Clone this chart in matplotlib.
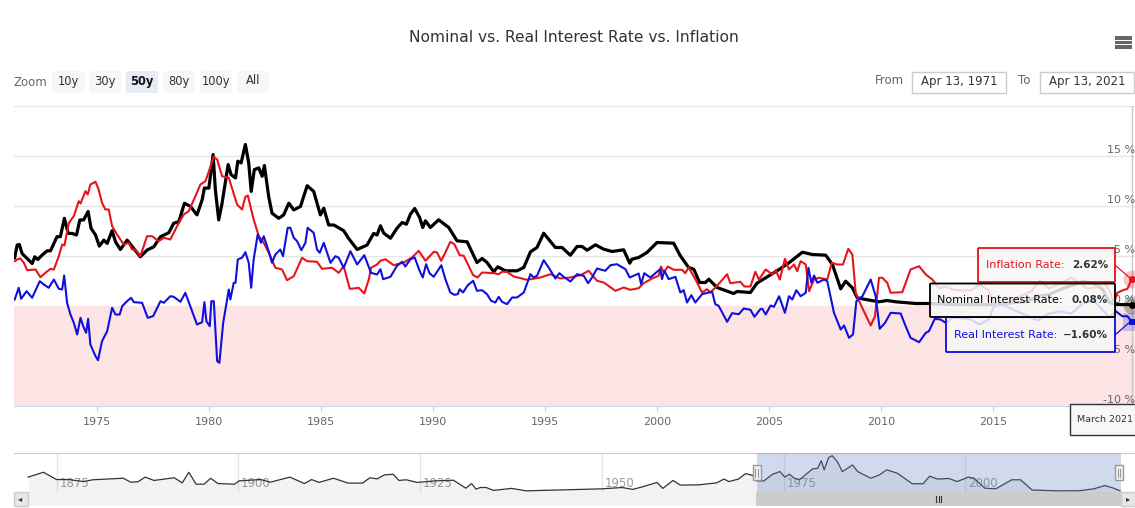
# Nominal vs. real interest rate vs. inflation, stock chart style

import matplotlib
matplotlib.use('Agg')
import matplotlib.pyplot as plt
from matplotlib.patches import FancyBboxPatch, Rectangle

# Nominal interest rate
nominal_years = [1971.32,1971.43,1971.53,1971.65,1971.8,1972.1,1972.22,1972.35,1972.54,1972.77,1972.92,1973.21,1973.36,1973.54,1973.71,1973.88,1974.08,1974.23,1974.4,1974.6,1974.73,1974.93,1975.1,1975.3,1975.45,1975.67,1975.82,1976.04,1976.34,1976.64,1976.93,1977.23,1977.53,1977.83,1978.2,1978.42,1978.65,1978.9,1979.17,1979.46,1979.69,1979.79,1979.99,1980.18,1980.28,1980.43,1980.58,1980.85,1980.98,1981.18,1981.28,1981.43,1981.62,1981.77,1981.88,1982.02,1982.22,1982.37,1982.47,1982.66,1982.81,1983.11,1983.33,1983.56,1983.78,1984.08,1984.38,1984.67,1984.97,1985.12,1985.34,1985.57,1986.01,1986.23,1986.61,1987.05,1987.35,1987.5,
                 1987.65,1987.8,1988.1,1988.39,1988.62,1988.81,1988.99,1989.18,1989.4,1989.54,1989.66,1989.88,1990.25,1990.7,1991.07,1991.52,1991.96,1992.19,1992.41,1992.71,1992.89,1993.23,1993.75,1994.05,1994.35,1994.64,1994.94,1995.46,1995.76,1996.13,1996.43,1996.65,1996.88,1997.25,1997.62,1997.99,1998.51,1998.78,1998.88,1999.18,1999.55,2000.0,2000.74,2001.04,2001.41,2001.64,2001.9,2002.16,2002.31,2002.68,2003.42,2003.57,2004.17,2004.46,
                 2004.85,2005.45,2005.89,2006.49,2006.93,2007.53,2007.83,2008.2,2008.42,2008.72,2008.94,2009.32,2009.91,2010.28,2010.65,2011.55,2012.22,2013.0,2015.0,2016.0,2016.5,2017.0,2017.5,2018.0,2018.5,2019.0,2019.5,2019.9,2020.2,2020.5,2021.19]
nominal_rates = [4.77,6.04,6.1,5.2,4.87,4.2,4.87,4.6,5.03,5.47,5.47,6.88,6.88,8.72,7.21,7.21,7.05,8.56,8.56,9.4,7.72,7.05,5.94,6.54,6.21,7.48,6.38,5.6,6.54,5.7,4.87,5.54,5.87,6.88,7.28,8.22,8.39,10.23,9.9,9.06,10.57,11.74,11.74,15.1,11.58,8.56,10.23,14.09,13.09,12.75,14.43,14.26,16.1,14.26,11.41,13.59,13.76,12.92,14.0,10.9,9.23,8.72,9.06,10.23,9.56,9.9,11.98,11.41,9.06,9.73,8.05,8.05,7.48,6.71,5.6,6.04,7.21,7.05,
                 7.97,7.23,6.73,7.73,8.3,8.13,9.13,9.7,8.8,7.8,8.47,7.8,8.57,7.8,6.47,6.37,4.3,4.7,4.3,3.37,3.87,3.47,3.47,3.8,5.37,5.8,7.23,5.8,5.8,5.03,5.9,5.9,5.53,6.07,5.63,5.4,5.57,4.23,4.63,4.8,5.3,6.3,6.23,4.97,3.8,3.63,2.3,2.3,2.63,1.8,1.2,1.4,1.3,2.23,
                 2.77,3.6,4.27,5.33,5.1,5.03,4.1,1.67,2.43,1.77,0.77,0.6,0.37,0.5,0.37,0.2,0.2,0.1,0.08,0.3,0.4,0.9,1.1,1.6,2.0,2.4,2.2,1.6,0.3,0.1,0.08]

# Inflation rate
inflation_years = [1971.32,1971.43,1971.58,1971.73,1971.88,1972.25,1972.47,1972.69,1972.92,1973.07,1973.29,1973.44,1973.54,1973.74,1973.96,1974.18,1974.26,1974.48,1974.58,1974.7,1974.93,1975.07,1975.22,1975.37,1975.52,1975.67,1975.89,1976.19,1976.41,1976.56,1976.71,1976.93,1977.23,1977.46,1977.75,1977.98,1978.27,1978.57,1978.87,1979.09,1979.39,1979.61,1979.84,1980.21,1980.36,1980.58,1980.88,1981.25,1981.47,1981.62,1981.73,1981.99,1982.22,1982.44,1982.74,1982.96,1983.26,1983.48,1983.78,1984.15,1984.38,1984.82,1985.04,1985.49,1985.79,1986.01,1986.28,1986.46,1986.68,1986.93,1987.13,1987.23,1987.5,
                   1987.65,1987.87,1988.24,1988.69,1989.06,1989.36,1989.66,1990.03,1990.18,1990.36,1990.55,1990.77,1990.95,1991.19,1991.37,1991.55,1991.79,1991.99,1992.19,1992.71,1992.93,1993.08,1993.3,1993.6,1994.2,1994.79,1995.24,1995.68,1996.13,1996.58,1996.95,1997.32,1997.62,1998.14,1998.51,1998.81,1999.18,1999.4,1999.78,2000.07,2000.18,2000.3,2000.48,2000.74,2001.12,2001.26,2001.41,2001.71,2002.01,2002.23,2002.38,2002.68,2003.13,2003.27,2003.72,2003.9,2004.17,2004.39,2004.55,
                   2004.85,2005.15,2005.3,2005.48,2005.71,2005.89,2006.12,2006.26,2006.41,2006.64,2006.79,2007.01,2007.23,2007.6,2007.8,2008.05,2008.3,2008.54,2008.72,2008.87,2009.09,2009.54,2009.73,2009.91,2010.06,2010.28,2010.43,2010.95,2011.32,2011.7,2012.0,2012.29,2012.6,2012.9,2013.2,2013.6,2014.0,2014.4,2014.8,2015.1,2015.5,2015.9,2016.3,2016.7,2017.1,2017.5,2018.0,2018.5,2018.9,2019.2,2019.6,2019.95,2020.2,2020.4,2020.55,2020.77,2021.0,2021.19]
inflation_rates = [4.43,4.6,4.7,4.27,3.53,3.6,2.83,3.27,3.67,3.6,4.93,6.1,6.0,8.27,8.93,10.43,10.2,11.43,11.1,12.1,12.37,11.6,10.27,9.6,9.6,7.93,7.1,6.1,6.27,5.6,5.6,4.93,6.93,6.93,6.43,6.77,6.6,7.93,9.1,9.43,10.93,12.1,12.43,14.87,14.6,12.93,12.77,10.1,9.6,10.87,11.0,8.6,6.93,6.27,4.93,3.77,3.6,2.53,2.93,4.77,4.43,4.37,3.67,3.77,3.27,3.93,1.67,1.7,1.77,1.2,2.6,3.77,4.1,
                   4.47,4.63,4.03,4.3,4.8,5.47,4.47,5.37,5.3,4.47,5.3,6.37,6.13,5.03,4.97,4.13,3.03,2.8,3.3,3.23,3.13,3.37,3.37,2.9,2.57,2.8,3.13,2.7,2.8,3.03,3.47,2.47,2.3,1.47,1.8,1.57,1.73,2.23,2.7,2.97,3.9,3.3,3.9,3.57,3.57,3.23,3.8,2.63,1.3,1.63,1.3,1.97,3.13,2.23,2.37,1.9,1.9,3.37,2.6,
                   3.6,3.1,3.53,2.6,4.67,3.6,4.1,3.43,4.43,4.1,1.43,2.6,2.77,2.6,4.27,4.1,4.1,5.67,5.1,1.27,0.1,-2.0,-1.07,2.77,2.77,2.27,1.27,1.33,3.6,3.93,3.1,2.6,1.7,1.9,1.6,1.5,1.5,2.1,1.5,-0.1,0.1,0.6,1.0,1.4,2.5,1.7,2.2,2.8,2.2,1.7,1.8,2.3,1.5,0.2,1.27,1.5,1.67,2.62]

# Real interest rate
real_years = [1971.32,1971.5,1971.61,1971.85,1972.1,1972.44,1972.62,1972.84,1973.07,1973.29,1973.44,1973.53,1973.66,1973.81,1973.96,1974.11,1974.26,1974.38,1974.51,1974.6,1974.7,1974.93,1975.04,1975.22,1975.45,1975.67,1975.82,1976.01,1976.12,1976.34,1976.52,1976.64,1977.01,1977.26,1977.5,1977.83,1977.98,1978.27,1978.42,1978.72,1978.94,1979.24,1979.46,1979.69,1979.79,1979.88,1980.03,1980.1,1980.21,1980.36,1980.46,1980.63,1980.88,1980.95,1981.1,1981.18,1981.28,1981.47,1981.62,1981.77,1981.88,1981.99,1982.17,1982.32,1982.44,1982.66,1982.81,1982.96,1983.18,1983.3,1983.51,1983.63,1983.78,1983.93,1984.12,1984.3,1984.4,1984.67,1984.82,1984.94,1985.12,1985.42,1985.64,1985.79,1986.01,1986.31,1986.61,1986.93,1987.23,1987.5,
              1987.65,1987.77,1988.1,1988.39,1988.62,1988.76,1988.99,1989.18,1989.4,1989.54,1989.69,1989.84,1990.03,1990.37,1990.55,1990.77,1990.95,1991.1,1991.19,1991.34,1991.55,1991.79,1991.96,1992.19,1992.41,1992.59,1992.78,1992.93,1993.08,1993.3,1993.53,1993.75,1994.05,1994.35,1994.49,1994.64,1994.94,1995.16,1995.46,1995.64,1995.83,1996.13,1996.43,1996.73,1996.92,1997.1,1997.32,1997.69,1997.92,1998.21,1998.59,1998.78,1999.18,1999.29,1999.43,1999.7,2000.0,2000.15,2000.22,2000.33,2000.52,2000.82,2001.04,2001.19,2001.34,2001.53,2001.71,2002.01,2002.31,2002.46,2002.6,2002.75,2003.13,2003.35,2003.65,2003.87,2004.17,2004.35,2004.61,
              2004.7,2004.85,2005.07,2005.22,2005.45,2005.71,2005.89,2006.04,2006.22,2006.41,2006.64,2006.76,2006.89,2007.01,2007.16,2007.46,2007.6,2007.9,2008.2,2008.35,2008.57,2008.75,2008.9,2009.17,2009.54,2009.76,2009.94,2010.18,2010.43,2010.88,2011.1,2011.32,2011.7,2012.0,2012.14,2012.4,2012.66,2012.89,2013.2,2013.6,2014.0,2014.4,2014.8,2015.1,2015.5,2016.0,2016.5,2017.0,2017.5,2018.0,2018.5,2019.0,2019.5,2020.0,2020.2,2020.48,2020.77,2021.0,2021.19]
real_rates = [0.6,1.77,0.67,1.43,0.77,2.43,2.1,1.77,2.6,1.67,1.6,3.0,0.27,-0.9,-1.73,-2.9,-1.23,-2.07,-2.73,-1.33,-3.9,-5.07,-5.47,-3.57,-2.57,-0.23,-0.9,-0.9,-0.07,0.43,0.77,0.33,0.27,-1.23,-1.07,0.43,0.27,0.93,0.87,0.37,1.27,-0.57,-1.9,-1.67,0.33,-1.57,-2.07,0.43,0.43,-5.57,-5.73,-1.73,1.6,0.6,2.27,2.27,4.6,4.77,5.33,4.27,1.77,4.6,7.1,6.27,6.93,5.43,4.27,5.1,5.6,4.93,7.77,7.77,6.77,6.43,5.53,6.27,7.77,7.27,5.6,5.27,6.27,4.27,4.93,4.77,3.77,5.43,4.1,5.03,3.27,3.1,
              3.63,2.63,2.87,3.97,4.37,3.9,4.63,4.8,3.47,2.8,4.13,3.23,2.87,4.03,2.63,1.3,1.07,1.13,1.63,1.3,2.03,2.47,1.47,1.53,1.13,0.47,0.3,0.87,0.37,0.13,0.8,0.8,1.3,3.13,2.8,2.97,4.53,3.8,2.7,3.23,2.87,2.4,3.13,2.97,2.23,2.8,3.7,3.47,4.03,4.13,3.63,2.8,3.2,2.13,3.23,2.8,3.37,3.63,2.63,3.47,2.63,2.87,1.3,1.53,0.3,1.03,0.3,1.13,1.3,1.37,0.13,-0.03,-1.63,-0.77,-0.87,-0.3,-0.43,-1.13,-0.37,
              -0.33,-0.9,0.0,-0.13,0.93,-0.73,0.93,0.6,1.53,0.93,1.27,3.77,2.27,3.0,2.27,2.6,2.43,-0.73,-2.4,-2.0,-3.23,-2.9,0.43,0.93,2.6,0.93,-2.33,-1.73,-0.73,-0.8,-2.07,-3.23,-3.67,-2.73,-2.57,-1.33,-1.4,-1.73,-1.2,-1.3,-1.4,-1.9,-1.4,0.2,0.0,-0.5,-1.0,-1.5,-0.8,-0.6,-0.8,0.2,0.5,-0.7,-1.2,-0.57,-1.07,-1.07,-1.6]

# Navigator series, the long history of the nominal rate
nav_years = [1871.1,1873.2,1875,1876.7,1878.7,1880,1884.2,1885.2,1886.2,1887.2,1888.4,1891.2,1892.3,1893.2,1894.2,1895.3,1896.2,1897.2,1899.5,1900.1,1903.1,1904.4,1907.1,1909.1,1910.1,1911.1,1913.1,1915.1,1917.1,1918.1,1919.1,1920.1,1921.3,1922.1,1923.1,1924.6,1927.1,1929.6,1931.3,1932.1,1932.7,1933.3,1934.1,1935.1,1937.6,1939.6,1945.4,1950,1952.8,1954.3,1955.8,1957.6,1958.4,1959.8,1960.8,1963.3,1965.8,1966.8,1967.5,1968.8,1969.8,1970.8,1971.3,1972.3,1973.5,1974.5,1975.2,1975.8,1976.5,1977.2,1979,1979.7,1980.2,1980.6,1981.2,1981.7,1982.4,1983.1,1984.5,1985.2,1987,1988.2,1989.2,1990.7,1992.7,1994.2,1995.1,1996.2,1997.7,1998.9,2000.4,2001.2,2002.7,2004.2,2006.4,2007.6,2009.2,2012.7,2015.7,2017.7,2019.2,2020.4,2021.3]
nav_rates = [6.3,8.5,5.2,5.2,4.3,5.1,5.8,4.0,4.2,6.3,4.8,6.0,3.7,8.5,3.1,3.1,5.8,3.4,3.1,4.6,5.2,4.0,6.3,3.4,5.2,3.9,5.8,3.6,3.6,6.0,5.5,7.3,7.6,4.8,5.1,3.9,4.6,4.9,1.3,3.4,0.9,1.6,1.6,0.3,1.2,0.1,0.6,1.0,1.6,0.75,2.1,3.9,1.2,4.8,2.7,2.8,3.7,5.4,4.3,5.4,7.9,7.0,4.6,4.6,7.6,8.8,6.3,7.6,5.8,5.1,10.0,10.3,13.7,9.6,15.1,16.0,13.3,8.8,11.8,8.8,5.8,7.3,9.6,8.0,3.3,3.3,6.7,5.4,5.7,4.3,6.3,5.8,1.3,1.0,5.1,5.1,0.45,0.1,0.15,1.0,2.5,1.3,0.08]

# Tick labels and controls
x_ticks = [1975, 1980, 1985, 1990, 1995, 2000, 2005, 2010, 2015]
y_ticks = [-10, -5, 0, 5, 10, 15, 20]
y_labeled = [-10, -5, 0, 5, 10, 15]
nav_ticks = [1875, 1900, 1925, 1950, 1975, 2000]
zoom_labels = ['10y', '30y', '50y', '80y', '100y', 'All']
from_date = 'Apr 13, 1971'
to_date = 'Apr 13, 2021'
hover_date = 'March 2021'

W, H = 1135, 508
start_year, end_year = 1971.29, 2021.34
select_from, select_to = 1971.3, 2021.4

fig = plt.figure(figsize=(W / 100, H / 100), dpi=100)


def px_axes(left, top, right, bottom, **kw):
    return fig.add_axes([left / W, 1 - bottom / H, (right - left) / W, (bottom - top) / H], **kw)


# Main chart
ax = px_axes(14, 105.5, 1135, 405.5)
ax.set_xlim(start_year, end_year)
ax.set_ylim(-10, 20)
ax.axhspan(-10, 0, color='#fce4e4', lw=0, zorder=1)
ax.grid(axis='y', color='#e6e6e6', lw=1)
ax.set_axisbelow(True)
for s in ['top', 'left', 'right']:
    ax.spines[s].set_visible(False)
ax.spines['bottom'].set_color('#ccd6eb')
ax.set_xticks(x_ticks)
ax.set_yticks(y_ticks)
ax.tick_params(axis='x', length=4, color='#ccd6eb', labelcolor='#666666', labelsize=8, pad=4.5)
ax.tick_params(axis='y', length=0, labelleft=False)
for v in y_labeled:
    ax.annotate(f'{v} %', xy=(1, v), xycoords=('axes fraction', 'data'), xytext=(0, 0.5),
                textcoords='offset points', ha='right', va='bottom', fontsize=8, color='#666666')

ax.plot(nominal_years, nominal_rates, color='black', lw=2.3, solid_joinstyle='round', zorder=3)
ax.plot(inflation_years, inflation_rates, color='#e8141c', lw=1.5, solid_joinstyle='round', zorder=4)
ax.plot(real_years, real_rates, color='#1010dd', lw=1.5, solid_joinstyle='round', zorder=5)

# Hover crosshair and markers on the last point
last_year = real_years[-1]
ax.axvline(last_year, color='#c8c8c8', lw=1, zorder=2)
ax.plot(last_year, inflation_rates[-1], 'o', ms=13, color='#e8141c', alpha=0.25, mew=0, clip_on=False, zorder=6)
ax.plot(last_year, inflation_rates[-1], 'o', ms=5, color='#e8141c', mew=0, clip_on=False, zorder=7)
ax.plot(last_year, nominal_rates[-1], 'o', ms=13, color='black', alpha=0.25, mew=0, clip_on=False, zorder=6)
ax.plot(last_year, nominal_rates[-1], 'o', ms=5, color='black', mew=0, clip_on=False, zorder=7)
ax.plot(last_year, real_rates[-1], 's', ms=13, color='#1010dd', alpha=0.2, mew=0, clip_on=False, zorder=6)
ax.plot(last_year, real_rates[-1], 's', ms=5, color='#1010dd', mew=0, clip_on=False, zorder=7)

# Navigator
nav = px_axes(14, 453, 1135, 491.5)
nav.set_xlim(1875 - 42.5 / 7.27, 1875 + 1078.5 / 7.27)
nav.set_ylim(-0.2, 17.2)
nav.set_yticks([])
nav.set_xticks(nav_ticks)
nav.grid(axis='x', color='#e6e6e6', lw=1)
nav.set_axisbelow(True)
nav.tick_params(axis='x', length=0, labelbottom=False)
for s in nav.spines.values():
    s.set_visible(False)
nav.spines['top'].set_visible(True)
nav.spines['top'].set_color('#cccccc')
for t in nav_ticks:
    nav.annotate(str(t), xy=(t, 0), xycoords=('data', 'axes fraction'), xytext=(2, 3),
                 textcoords='offset points', fontsize=8.5, color='#999999', zorder=1)
nav.fill_between(nav_years, nav_rates, -0.2, color='#8a8a8a', alpha=0.1, lw=0, zorder=2)
nav.plot(nav_years, nav_rates, color='#333333', lw=0.9, zorder=3)
nav.axvspan(select_from, select_to, color='#6685c2', alpha=0.3, lw=0, zorder=4)

# Page furniture in pixel coordinates
ui = fig.add_axes([0, 0, 1, 1], zorder=10)
ui.set_xlim(0, W)
ui.set_ylim(H, 0)
ui.axis('off')
ui.patch.set_alpha(0)

ui.text(574, 37, 'Nominal vs. Real Interest Rate vs. Inflation', ha='center', va='center',
        fontsize=11.2, color='#333333')

for y in [38, 42.5, 47]:
    ui.add_patch(Rectangle((1115, y - 1.6), 16.5, 3.2, color='#666666', lw=0))

ui.text(14, 82, 'Zoom', va='center', fontsize=8.5, color='#666666')
button_edges = [(52, 85), (89, 121), (126, 158), (163, 195), (200, 232), (237, 269)]
for label, (x0, x1) in zip(zoom_labels, button_edges):
    active = label == '50y'
    ui.add_patch(FancyBboxPatch((x0 + 2, 73), x1 - x0 - 4, 18, boxstyle='round,pad=2',
                                fc='#e6ebf5' if active else '#f7f7f7', ec='none'))
    ui.text((x0 + x1) / 2, 81, label, ha='center', va='center', fontsize=8.3, color='#111111' if active else '#333333',
            fontweight='bold' if active else 'normal')

ui.text(875, 81, 'From', va='center', fontsize=8.5, color='#666666')
ui.text(1018, 81, 'To', va='center', fontsize=8.5, color='#666666')
for date, x0, x1 in [(from_date, 912, 1006), (to_date, 1040, 1134)]:
    ui.add_patch(Rectangle((x0, 71.5), x1 - x0, 21, fc='white', ec='#cccccc', lw=1))
    ui.text((x0 + x1) / 2, 82, date, ha='center', va='center', fontsize=8.5, color='#333333')

# Scrollbar under the navigator
ui.add_patch(Rectangle((14, 491.5), 1121, 14.5, fc='#f2f2f2', ec='none'))
ui.add_patch(Rectangle((756, 491.5), 365, 14.5, fc='#cccccc', ec='none'))
for x0, mark in [(13.5, '◂'), (1121, '▸')]:
    ui.add_patch(Rectangle((x0, 491.5), 14, 14.5, fc='#e6e6e6', ec='#cccccc', lw=1))
    ui.text(x0 + 7, 498.5, mark, ha='center', va='center', fontsize=6, color='#333333')
for x in [936, 938.5, 941]:
    ui.plot([x, x], [496, 502], color='#333333', lw=0.8)
for x in [756.5, 1119]:
    ui.add_patch(Rectangle((x - 4, 465), 8, 15, fc='#f2f2f2', ec='#999999', lw=1))
    ui.plot([x - 1.2, x - 1.2], [468.5, 476.5], color='#999999', lw=0.8)
    ui.plot([x + 1.2, x + 1.2], [468.5, 476.5], color='#999999', lw=0.8)


# Hover tooltips
def tooltip(x0, y0, x1, y1, edge, name, name_x, value, value_color='#333333'):
    ui.add_patch(FancyBboxPatch((x0 + 1, y0 + 1), x1 - x0 - 2, y1 - y0 - 2, boxstyle='round,pad=1',
                                fc='#f7f7f7', ec=edge, alpha=0.85, lw=1.1))
    ui.add_patch(FancyBboxPatch((x0 + 1, y0 + 1), x1 - x0 - 2, y1 - y0 - 2, boxstyle='round,pad=1',
                                fc='none', ec=edge, lw=1.1))
    ui.text(name_x, (y0 + y1) / 2, name, va='center', fontsize=8, color=edge)
    ui.text(1108, (y0 + y1) / 2, value, va='center', ha='right', fontsize=7.5, fontweight='bold', color=value_color)


def pct(v):
    return f'{v:.2f}%'.replace('-', '\u2212')


ui.plot([1115, 1131], [265, 279], color='#e8141c', lw=0.9)
ui.plot([1115, 1131], [335, 321], color='#1010dd', lw=0.9)
tooltip(978, 248, 1115, 282, '#e8141c', 'Inflation Rate:', 986, pct(inflation_rates[-1]))
tooltip(946, 317, 1115, 352, '#1010dd', 'Real Interest Rate:', 954, pct(real_rates[-1]))
tooltip(930, 283.5, 1115, 317, 'black', 'Nominal Interest Rate:', 937, pct(nominal_rates[-1]))

ui.add_patch(Rectangle((1070, 404), 70, 31, fc='#f7f7f7', ec='#333333', lw=1, clip_on=True))
ui.text(1105, 420, hover_date, ha='center', va='center', fontsize=6.8, color='#333333')

fig.savefig('out.png', dpi=100)
